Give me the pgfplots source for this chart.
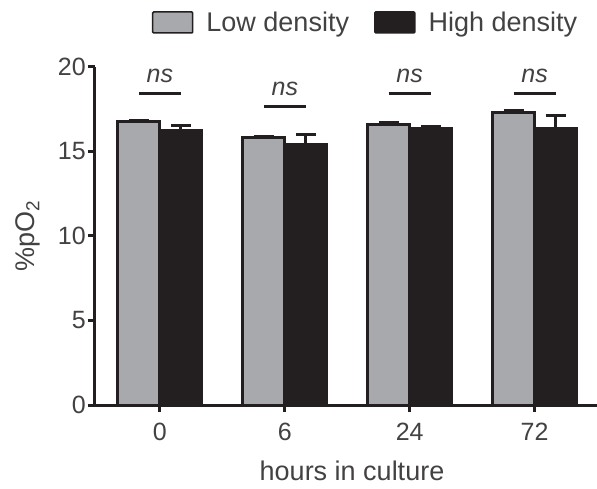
\documentclass[border=0pt]{standalone}
\usepackage{pgfplots}
\pgfplotsset{compat=1.18}
\usepackage{fontspec}
\setmainfont{Liberation Sans}
\definecolor{lowgray}{HTML}{A7A9AC}
\definecolor{hiblack}{HTML}{231F20}
\begin{document}
\begin{tikzpicture}
\path[use as bounding box] (-95bp,-84bp) rectangle (502bp,405bp);
\begin{axis}[
  at={(0,0)}, anchor=south west,
  scale only axis, width=502bp, height=338bp,
  xmin=-0.52, xmax=3.5, ymin=0, ymax=20,
  axis x line*=bottom, axis y line*=left,
  axis line style={line width=3bp, hiblack},
  every tick/.style={line width=3bp, hiblack},
  tick align=outside, major tick length=7bp,
  xtick={0,1,2,3}, xticklabels={0,6,24,72},
  ytick={0,5,10,15,20},
  /pgf/number format/assume math mode=true,
  ticklabel style={font=\fontsize{25bp}{30bp}\selectfont, text=hiblack!85},
  yticklabel style={inner sep=2bp},
  xticklabel style={inner sep=4bp, yshift=-7bp},
  clip=false,
  ybar=0pt, bar width=42bp,
  xlabel={hours in culture},
  ylabel={\%pO\textsubscript{2}},
  every axis x label/.style={at={(axis description cs:0.512,-0.2219)}, anchor=base, font=\fontsize{27bp}{32bp}\selectfont, text=hiblack!85},
  every axis y label/.style={at={(axis description cs:-0.1335,0.5)}, rotate=90, anchor=center, font=\fontsize{27bp}{32bp}\selectfont, text=hiblack!85},
  legend columns=2,
  legend style={at={(axis description cs:0.1135,1.1317)}, anchor=west, draw=none, fill=none,
    inner sep=0pt, outer sep=0pt, font=\fontsize{27bp}{32bp}\selectfont, text=hiblack!85,
    nodes={inner sep=0pt},
    /tikz/every odd column/.append style={column sep=13bp},
    /tikz/every even column/.append style={column sep=25bp}},
  error bars/y dir=plus, error bars/y explicit,
  error bars/error bar style={line width=3bp, hiblack},
  error bars/error mark options={rotate=90, mark size=10bp, line width=3bp, hiblack},
]
\addplot[fill=lowgray, draw=hiblack, line width=3bp,
  legend image code/.code={\draw[fill=lowgray, draw=hiblack, line width=1.5bp, rounded corners=1bp] (0bp,-10.5bp) rectangle (40bp,10.5bp);}]
  table[x=x, y=y, y error=e] {
x y e
0 16.75 0.10
1 15.80 0.08
2 16.60 0.12
3 17.30 0.10
};
\addlegendentry{Low density}
\addplot[fill=hiblack, draw=hiblack, line width=3bp,
  legend image code/.code={\draw[fill=hiblack, draw=hiblack, line width=1.5bp, rounded corners=1bp] (0bp,-10.5bp) rectangle (40bp,10.5bp);}]
  table[x=x, y=y, y error=e] {
x y e
0 16.25 0.30
1 15.40 0.60
2 16.35 0.10
3 16.35 0.80
};
\addlegendentry{High density}
\draw[line width=3bp, hiblack] (axis cs:-0.168,18.45) -- (axis cs:0.168,18.45);
\draw[line width=3bp, hiblack] (axis cs:0.832,17.65) -- (axis cs:1.168,17.65);
\draw[line width=3bp, hiblack] (axis cs:1.832,18.45) -- (axis cs:2.168,18.45);
\draw[line width=3bp, hiblack] (axis cs:2.832,18.45) -- (axis cs:3.168,18.45);
\node[anchor=base, yshift=11bp, font=\fontsize{25bp}{30bp}\selectfont\itshape, text=hiblack!85] at (axis cs:0,18.45) {ns};
\node[anchor=base, yshift=11bp, font=\fontsize{25bp}{30bp}\selectfont\itshape, text=hiblack!85] at (axis cs:1,17.65) {ns};
\node[anchor=base, yshift=11bp, font=\fontsize{25bp}{30bp}\selectfont\itshape, text=hiblack!85] at (axis cs:2,18.45) {ns};
\node[anchor=base, yshift=11bp, font=\fontsize{25bp}{30bp}\selectfont\itshape, text=hiblack!85] at (axis cs:3,18.45) {ns};
\end{axis}
\end{tikzpicture}
\end{document}
